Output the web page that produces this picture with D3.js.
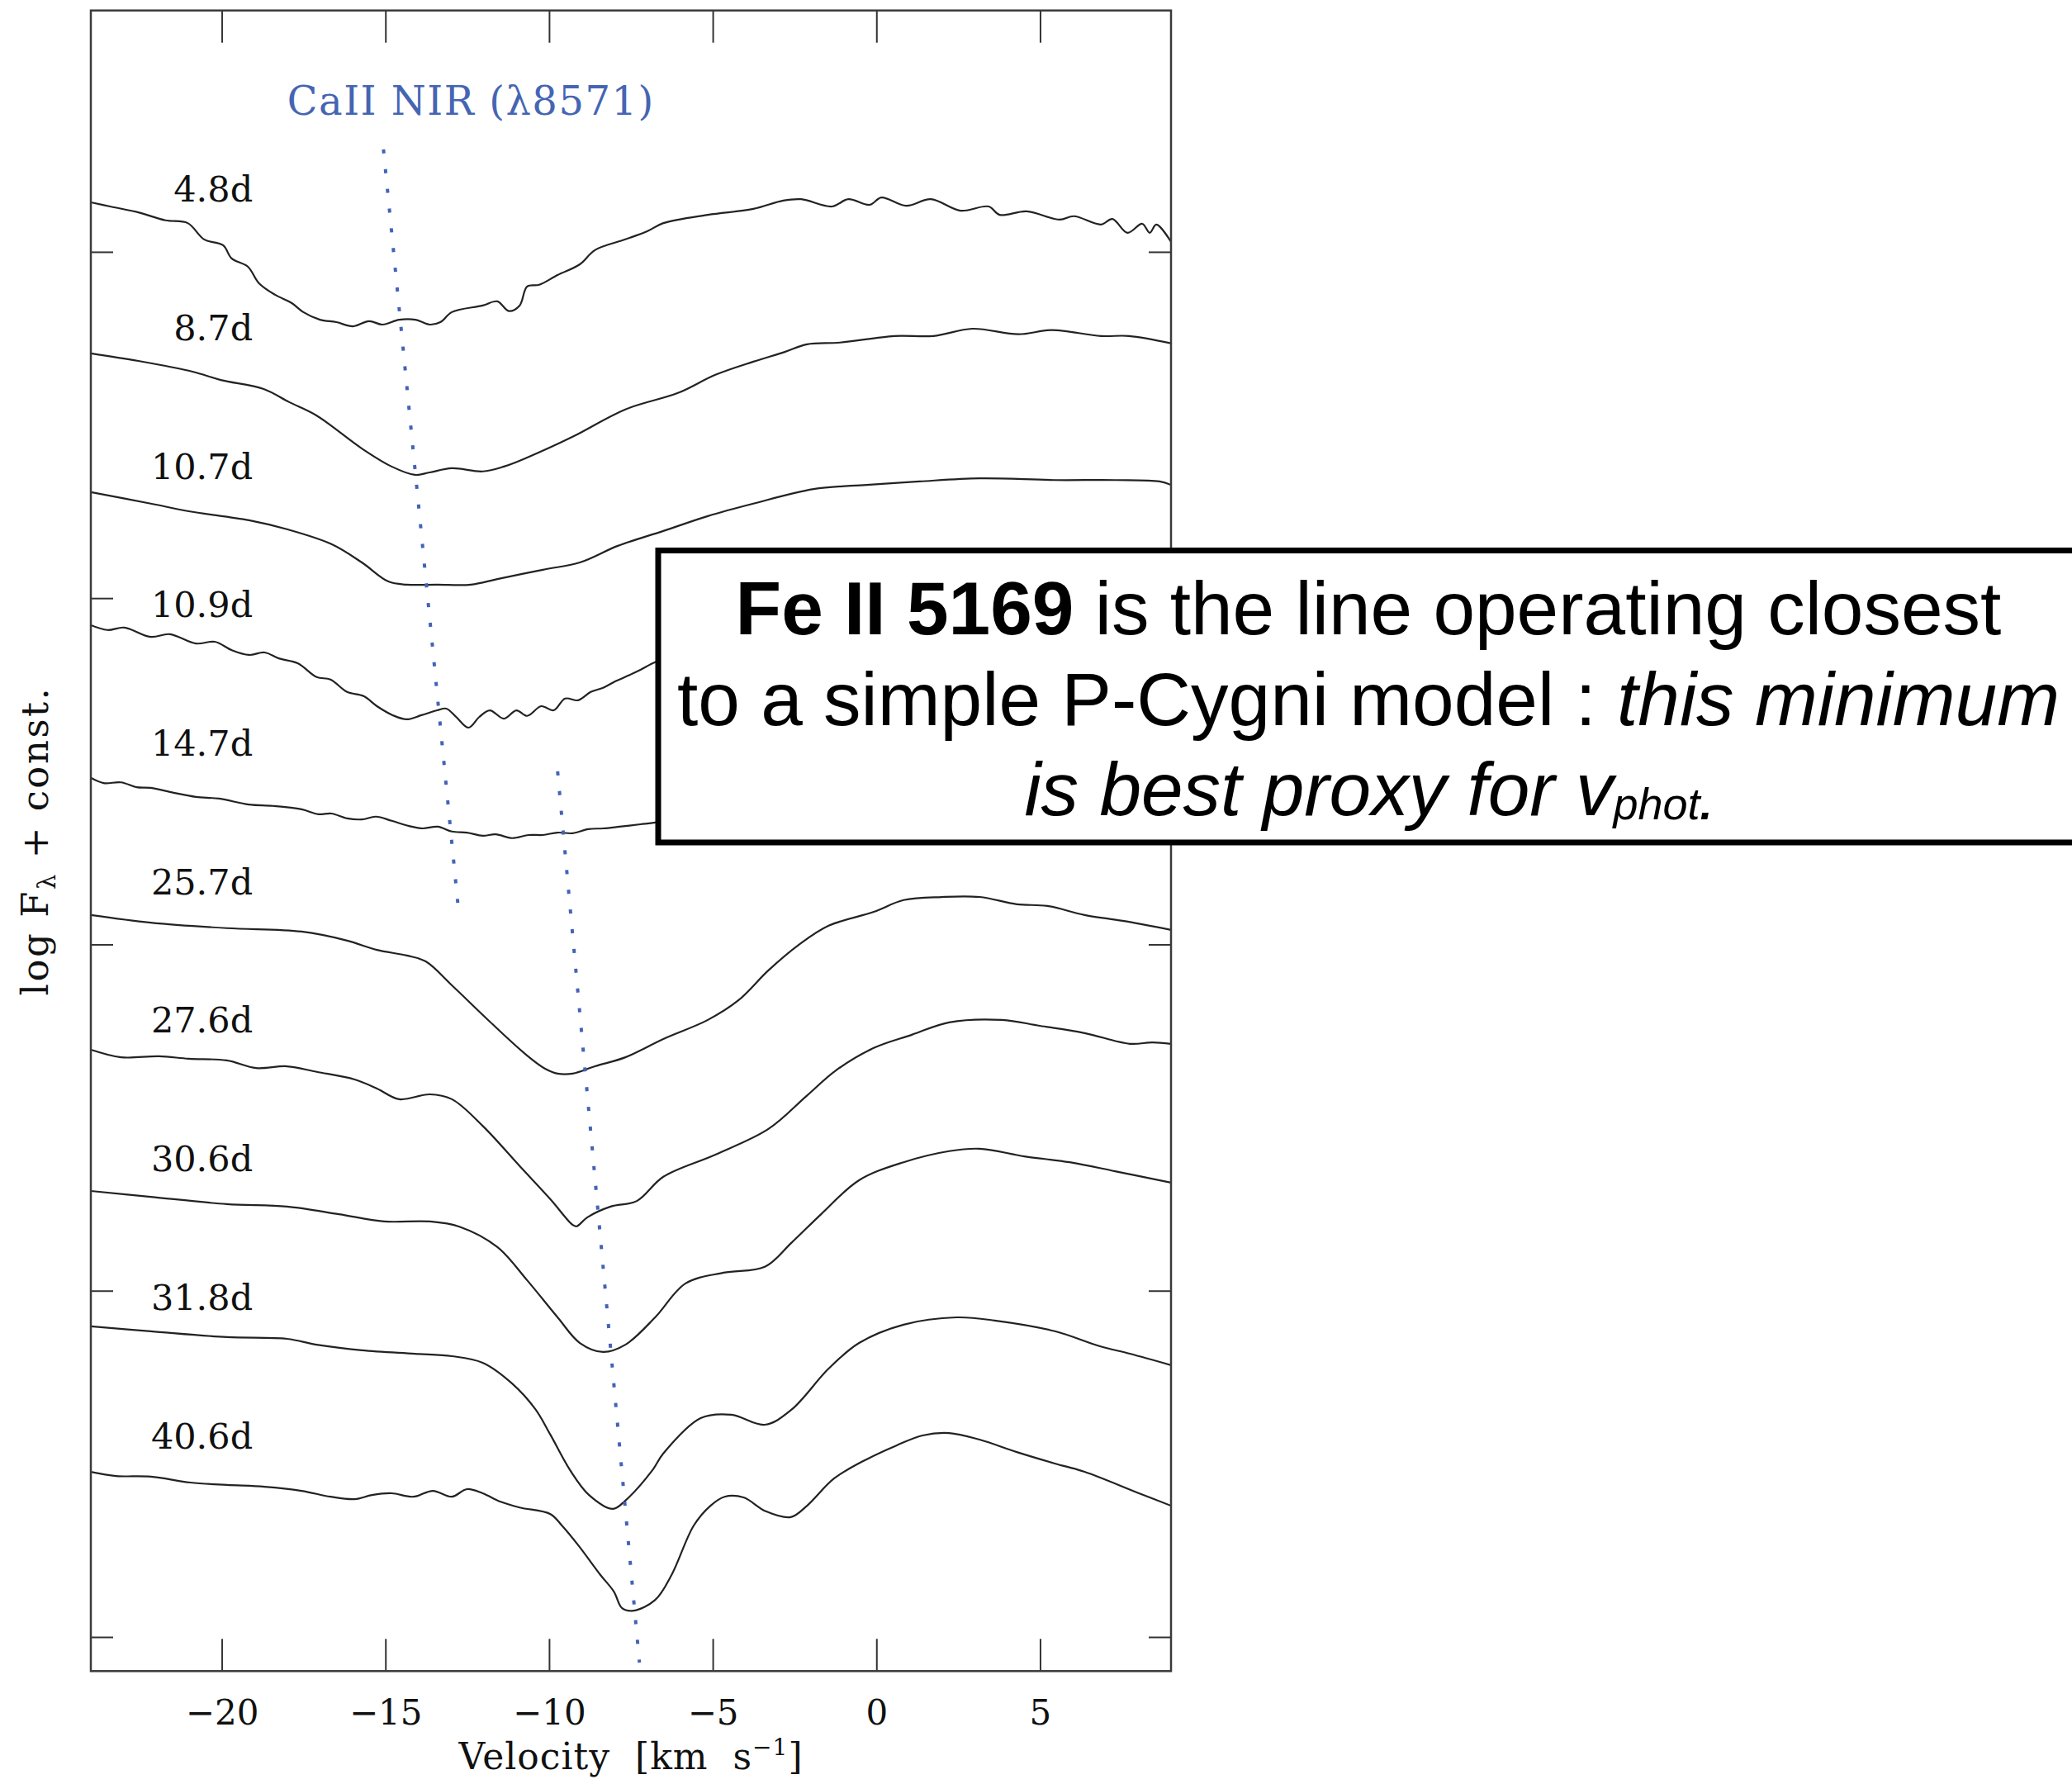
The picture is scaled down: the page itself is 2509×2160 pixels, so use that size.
<!DOCTYPE html>
<html><head><meta charset="utf-8">
<script src="https://cdn.jsdelivr.net/npm/d3@7"></script>
<style>body{margin:0;background:#fff}svg{display:block}</style>
</head><body>
<script>
// ---------------- DATA ----------------
const epochs = ["4.8d","8.7d","10.7d","10.9d","14.7d","25.7d","27.6d","30.6d","31.8d","40.6d"];
const xTicks = [-20,-15,-10,-5,0,5];
const yTicks = [0,1,2,3,4];

// [velocity (1000 km/s), log F + const]
const spec48 = [[-24.0,4.143],[-23.41,4.131],[-22.55,4.114],[-21.72,4.091],[-21.04,4.083],[-20.54,4.036],[-19.96,4.019],[-19.70,3.981],[-19.20,3.957],[-18.87,3.910],[-18.37,3.876],[-17.86,3.852],[-17.51,3.826],[-17.00,3.804],[-16.5,3.797],[-15.99,3.785],[-15.5,3.800],[-15.09,3.790],[-14.58,3.804],[-14.08,3.804],[-13.65,3.790],[-13.32,3.797],[-12.97,3.826],[-12.03,3.845],[-11.58,3.857],[-11.23,3.829],[-10.90,3.845],[-10.67,3.900],[-10.3,3.905],[-9.74,3.933],[-9.06,3.964],[-8.60,4.005],[-7.67,4.036],[-6.99,4.060],[-6.51,4.083],[-5.15,4.107],[-3.76,4.124],[-2.85,4.148],[-2.30,4.152],[-1.36,4.131],[-0.86,4.152],[-0.20,4.136],[0.15,4.157],[0.91,4.133],[1.66,4.152],[2.57,4.119],[3.43,4.131],[3.76,4.107],[4.59,4.117],[5.60,4.093],[6.03,4.103],[6.86,4.079],[7.21,4.095],[7.67,4.055],[8.12,4.081],[8.35,4.055],[8.55,4.079],[9.0,4.029]];
const spec87 = [[-24.0,3.707],[-22.55,3.685],[-20.89,3.654],[-20.03,3.630],[-18.72,3.604],[-17.94,3.566],[-17.10,3.527],[-15.72,3.432],[-14.81,3.380],[-14.10,3.356],[-13.65,3.363],[-12.97,3.375],[-12.03,3.366],[-11.38,3.380],[-10.67,3.406],[-9.28,3.466],[-7.67,3.545],[-6.05,3.593],[-4.92,3.645],[-3.76,3.683],[-2.80,3.711],[-2.12,3.733],[-1.11,3.738],[0.55,3.757],[1.74,3.757],[2.93,3.778],[4.34,3.762],[5.35,3.774],[6.86,3.757],[7.72,3.757],[9.0,3.736]];
const spec107 = [[-24.0,3.306],[-22.17,3.273],[-21.01,3.251],[-19.17,3.225],[-18.01,3.199],[-16.65,3.156],[-15.72,3.103],[-14.91,3.048],[-14.35,3.039],[-13.42,3.039],[-12.39,3.039],[-11.58,3.055],[-10.19,3.082],[-9.06,3.103],[-7.90,3.151],[-6.51,3.194],[-5.15,3.237],[-3.76,3.273],[-1.92,3.315],[-0.30,3.327],[1.31,3.337],[3.15,3.346],[5.45,3.341],[7.29,3.341],[8.65,3.337],[9.0,3.327]];
const spec109 = [[-24.0,2.922],[-23.49,2.908],[-22.98,2.915],[-22.17,2.888],[-21.59,2.896],[-20.79,2.869],[-20.21,2.874],[-19.70,2.850],[-19.17,2.836],[-18.69,2.843],[-18.26,2.826],[-17.68,2.812],[-17.10,2.772],[-16.68,2.765],[-16.17,2.729],[-15.67,2.717],[-15.26,2.688],[-14.78,2.662],[-14.35,2.650],[-13.90,2.662],[-13.42,2.676],[-13.14,2.681],[-12.84,2.657],[-12.46,2.626],[-12.13,2.657],[-11.81,2.676],[-11.38,2.652],[-11.00,2.676],[-10.67,2.660],[-10.24,2.688],[-9.86,2.676],[-9.51,2.710],[-9.11,2.705],[-8.73,2.729],[-8.35,2.741],[-7.97,2.760],[-7.59,2.776],[-7.21,2.793],[-6.76,2.815],[-6.0,2.838]];
const spec147 = [[-24.0,2.481],[-23.61,2.466],[-23.08,2.468],[-22.60,2.454],[-22.17,2.452],[-21.47,2.438],[-20.79,2.426],[-20.08,2.421],[-19.17,2.404],[-18.44,2.400],[-17.56,2.390],[-17.05,2.376],[-16.65,2.378],[-16.17,2.364],[-15.72,2.361],[-15.29,2.369],[-14.81,2.357],[-14.28,2.342],[-13.87,2.335],[-13.40,2.340],[-12.97,2.326],[-12.51,2.323],[-12.03,2.314],[-11.63,2.318],[-11.13,2.307],[-10.62,2.316],[-10.19,2.316],[-9.74,2.323],[-9.28,2.321],[-8.80,2.333],[-8.35,2.335],[-7.85,2.340],[-7.21,2.347],[-6.76,2.352],[-6.0,2.366]];
const spec257 = [[-24.0,2.085],[-22.17,2.063],[-19.85,2.047],[-17.56,2.037],[-16.17,2.011],[-15.26,1.984],[-14.35,1.968],[-13.77,1.951],[-12.97,1.882],[-11.81,1.777],[-10.67,1.679],[-10.12,1.641],[-9.74,1.627],[-9.28,1.627],[-8.60,1.648],[-7.67,1.674],[-6.51,1.727],[-5.15,1.782],[-4.21,1.839],[-3.30,1.925],[-2.37,1.999],[-1.46,2.054],[-0.08,2.094],[0.83,2.128],[1.99,2.137],[3.15,2.137],[4.29,2.116],[5.22,2.111],[6.36,2.085],[7.52,2.068],[9.0,2.042]];
const spec276 = [[-24.0,1.696],[-23.08,1.674],[-21.92,1.677],[-21.01,1.670],[-19.85,1.665],[-18.95,1.643],[-18.01,1.648],[-17.10,1.632],[-15.94,1.610],[-15.26,1.584],[-14.58,1.553],[-13.65,1.567],[-12.97,1.553],[-12.03,1.476],[-10.90,1.360],[-9.96,1.264],[-9.28,1.190],[-9.16,1.186],[-8.83,1.212],[-8.12,1.243],[-7.32,1.259],[-6.51,1.329],[-4.92,1.393],[-3.30,1.467],[-2.14,1.562],[-1.24,1.636],[-0.08,1.701],[1.08,1.739],[2.22,1.775],[3.83,1.782],[4.99,1.765],[6.36,1.744],[7.74,1.713],[8.43,1.717],[9.0,1.713]];
const spec306 = [[-24.0,1.288],[-22.17,1.271],[-19.85,1.250],[-18.01,1.243],[-16.42,1.221],[-15.04,1.200],[-13.65,1.200],[-12.74,1.185],[-11.58,1.126],[-10.67,1.030],[-9.74,0.923],[-9.06,0.849],[-8.35,0.823],[-7.67,0.844],[-6.76,0.923],[-5.83,1.021],[-4.67,1.052],[-3.41,1.069],[-2.60,1.138],[-1.69,1.221],[-0.53,1.319],[0.83,1.371],[2.22,1.403],[3.15,1.410],[4.52,1.388],[5.90,1.371],[7.29,1.345],[9.0,1.312]];
const spec318 = [[-24.0,0.897],[-22.17,0.883],[-19.85,0.866],[-18.01,0.861],[-17.10,0.844],[-15.72,0.828],[-14.10,0.818],[-12.97,0.811],[-12.03,0.792],[-11.13,0.732],[-10.42,0.658],[-9.96,0.584],[-9.36,0.482],[-8.78,0.410],[-8.05,0.370],[-7.67,0.394],[-6.84,0.482],[-6.51,0.530],[-5.37,0.632],[-4.44,0.642],[-3.41,0.613],[-2.60,0.656],[-1.46,0.775],[-0.53,0.849],[0.83,0.902],[2.45,0.923],[3.61,0.914],[5.45,0.883],[6.81,0.840],[7.74,0.818],[9.0,0.785]];
const spec406 = [[-24.0,0.477],[-23.23,0.465],[-22.17,0.463],[-20.96,0.446],[-19.85,0.439],[-18.69,0.434],[-17.56,0.422],[-16.68,0.405],[-15.94,0.398],[-15.41,0.410],[-14.81,0.415],[-14.15,0.405],[-13.55,0.422],[-12.97,0.405],[-12.51,0.427],[-12.03,0.415],[-11.50,0.391],[-10.90,0.374],[-9.96,0.355],[-9.61,0.322],[-9.11,0.265],[-8.43,0.179],[-8.02,0.131],[-7.77,0.083],[-7.42,0.076],[-6.76,0.107],[-6.26,0.179],[-5.58,0.322],[-5.07,0.379],[-4.64,0.405],[-4.06,0.403],[-3.38,0.363],[-2.62,0.346],[-2.12,0.379],[-1.29,0.458],[-0.30,0.513],[0.61,0.553],[1.41,0.582],[2.22,0.589],[3.15,0.570],[4.29,0.534],[5.45,0.501],[6.36,0.477],[7.97,0.417],[9.0,0.379]];
const spectra = [spec48,spec87,spec107,spec109,spec147,spec257,spec276,spec306,spec318,spec406];

// dotted velocity tracks: [v, logF]
const caTrack = [[-15.06,4.296],[-12.79,2.120]];
const feTrack = [[-9.74,2.500],[-7.24,-0.074]];

// ---------------- CHART ----------------
const W = 2509, H = 2160;
const svg = d3.select("body").append("svg").attr("width", W).attr("height", H);
const x = d3.scaleLinear().domain([-24, 9]).range([110, 1418]);
const y = d3.scaleLinear().domain([-0.0985, 4.697]).range([2023.3, 12.7]);
const serif = "'DejaVu Serif', serif";
const [x0, x1] = x.range();
const [yb, yt] = y.range();

svg.append("defs").append("clipPath").attr("id", "plotclip")
  .append("rect").attr("x", x0).attr("y", yt).attr("width", x1 - x0).attr("height", yb - yt);

// curves
const line = d3.line().x(d => x(d[0])).y(d => y(d[1])).curve(d3.curveCatmullRom.alpha(0.5));
svg.append("g").attr("clip-path", "url(#plotclip)")
  .selectAll("path").data(spectra).join("path")
  .attr("d", line).attr("fill", "none").attr("stroke", "#222").attr("stroke-width", 2.2)
  .attr("stroke-linejoin", "round");

// axes
const fmt = d => d < 0 ? "\u2212" + (-d) : String(d);
const gB = svg.append("g").attr("transform", `translate(0,${yb})`)
  .call(d3.axisBottom(x).tickValues(xTicks).tickSize(-39).tickFormat(fmt));
const gT = svg.append("g").attr("transform", `translate(0,${yt})`)
  .call(d3.axisTop(x).tickValues(xTicks).tickSize(-39).tickFormat(""));
const gL = svg.append("g").attr("transform", `translate(${x0},0)`)
  .call(d3.axisLeft(y).tickValues(yTicks).tickSize(-27).tickFormat(""));
const gR = svg.append("g").attr("transform", `translate(${x1},0)`)
  .call(d3.axisRight(y).tickValues(yTicks).tickSize(-27).tickFormat(""));
[gB, gT, gL, gR].forEach(g => {
  g.select(".domain").remove();
  g.selectAll(".tick line").attr("stroke", "#333").attr("stroke-width", 2);
});
gB.selectAll(".tick text").attr("y", 65).attr("dy", 0)
  .style("font-family", serif).style("font-size", "42px").attr("fill", "#111");

svg.append("rect").attr("x", x0).attr("y", yt).attr("width", x1 - x0).attr("height", yb - yt)
  .attr("fill", "none").attr("stroke", "#3a3a3a").attr("stroke-width", 2.5);

// epoch labels
svg.append("g").selectAll("text").data(epochs).join("text")
  .attr("x", x(-19.05)).attr("y", (d, i) => y(4.145 - 0.4 * i))
  .attr("text-anchor", "end").style("font-family", serif).style("font-size", "43px")
  .attr("fill", "#111").text(d => d);

// dotted tracks
const tline = d3.line().x(d => x(d[0])).y(d => y(d[1]));
svg.append("g").selectAll("path").data([caTrack, feTrack]).join("path")
  .attr("d", tline).attr("fill", "none").attr("stroke", "#4363b6")
  .attr("stroke-width", 4).attr("stroke-dasharray", "5 19");

svg.append("text").attr("x", x(-18.0)).attr("y", y(4.396))
  .style("font-family", serif).style("font-size", "48px").style("letter-spacing", "1.5px")
  .attr("fill", "#4565b3")
  .text("CaII NIR (\u03bb8571)");

// axis titles
const xt = svg.append("text").attr("x", (x0 + x1) / 2).attr("y", 2142).attr("text-anchor", "middle")
  .style("font-family", serif).style("font-size", "44px").style("letter-spacing", "1px")
  .style("white-space", "pre").attr("fill", "#111");
xt.append("tspan").text("Velocity  [km  s");
xt.append("tspan").attr("dy", -17).style("font-size", "28px").text("\u22121");
xt.append("tspan").attr("dy", 17).text("]");

const yt2 = svg.append("text").attr("transform", `translate(58,${(yt + yb) / 2}) rotate(-90)`)
  .attr("text-anchor", "middle").style("font-family", serif).style("font-size", "45px")
  .style("letter-spacing", "2.5px").style("white-space", "pre").attr("fill", "#111");
yt2.append("tspan").text("log F");
yt2.append("tspan").attr("dy", 9).style("font-size", "29px").text("\u03bb");
yt2.append("tspan").attr("dy", -9).text(" + const.");

// annotation box
svg.append("rect").attr("x", 797).attr("y", 666.5).attr("width", 1760).attr("height", 353.5)
  .attr("fill", "#fff").attr("stroke", "#000").attr("stroke-width", 7);
const sans = "'Liberation Sans', Arial, Helvetica, sans-serif";
const cx = 1657;
const l1 = svg.append("text").attr("x", cx).attr("y", 768).attr("text-anchor", "middle")
  .style("font-family", sans).style("font-size", "91px").style("white-space", "pre");
l1.append("tspan").attr("font-weight", "bold").text("Fe II 5169");
l1.append("tspan").text(" is the line operating closest");
const l2 = svg.append("text").attr("x", cx).attr("y", 878).attr("text-anchor", "middle")
  .style("font-family", sans).style("font-size", "91px").style("white-space", "pre");
l2.append("tspan").text("to a simple P-Cygni model : ");
l2.append("tspan").attr("font-style", "italic").text("this minimum");
const l3 = svg.append("text").attr("x", cx).attr("y", 987).attr("text-anchor", "middle")
  .style("font-family", sans).style("font-size", "91px").style("font-style", "italic").style("white-space", "pre");
l3.append("tspan").text("is best proxy for v");
l3.append("tspan").attr("dy", 5).style("font-size", "54px").text("phot");
l3.append("tspan").style("font-size", "54px").attr("font-weight", "bold").text(".");
</script>
</body></html>
